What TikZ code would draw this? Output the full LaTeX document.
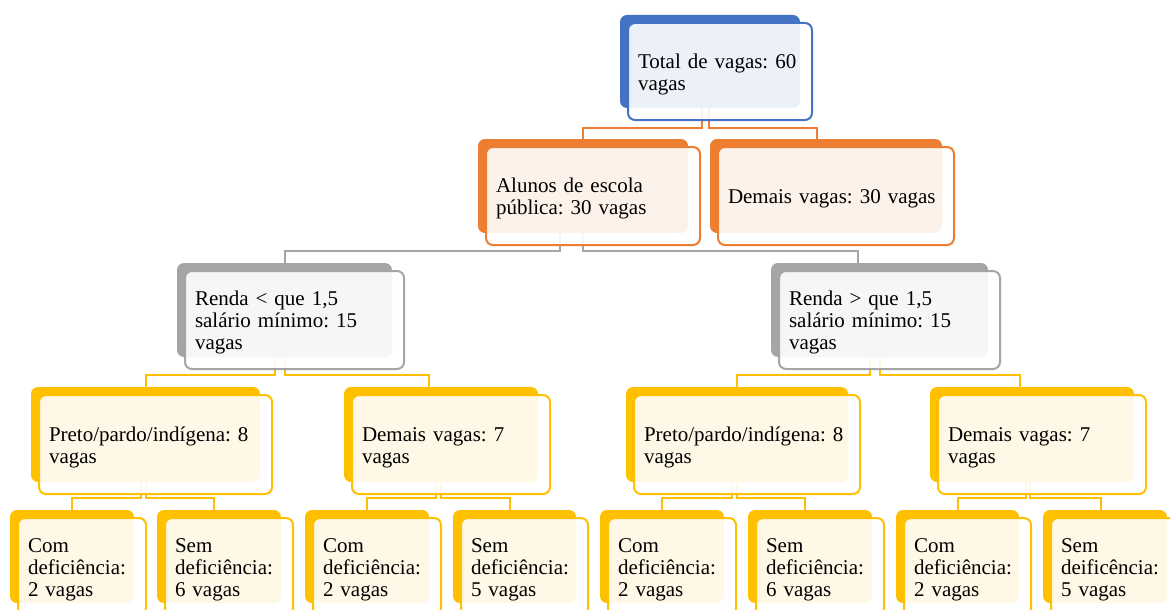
\documentclass[tikz,border=0pt]{standalone}
\usepackage{fontspec}
\setmainfont{Liberation Serif}
\frenchspacing
\usetikzlibrary{backgrounds}
\definecolor{cblue}{HTML}{4472C4}
\definecolor{corange}{HTML}{ED7D31}
\definecolor{cgray}{HTML}{A5A5A5}
\definecolor{cgold}{HTML}{FFC000}
\tikzset{
  backbox/.style={rectangle, rounded corners=7pt, inner sep=0pt, outer sep=0pt, draw=none},
  frontbox/.style={rectangle, rounded corners=7pt, line width=2pt, fill=white, fill opacity=0.9, text opacity=1,
    inner xsep=10pt, inner ysep=0pt, outer sep=0pt, align=left, text height=20.3pt, font=\fontsize{21}{22}\selectfont},
  conn/.style={line width=2pt}
}
\newcommand\mkbox[7]{%
  \pgfmathsetmacro\bw{#5-#3}%
  \pgfmathsetmacro\bh{#6-#4}%
  \pgfmathsetmacro\fw{\bw+4}%
  \pgfmathsetmacro\fh{\bh+4}%
  \pgfmathsetmacro\tw{\bw-16}%
  \node[backbox, fill=#2, minimum width=\bw pt, minimum height=\bh pt] (#1b) at ({(#3+#5)/2},{(#4+#6)/2}) {};
  \node[frontbox, draw=#2, minimum width=\fw pt, minimum height=\fh pt, text width=\tw pt] (#1) at ({(#3+#5)/2+10},{(#4+#6)/2+10}) {#7};
}
\begin{document}
\begin{tikzpicture}[x=1pt,y=-1pt]
\useasboundingbox (0,0) rectangle (1170,610);
% level 0
\mkbox{top}{cblue}{620}{15}{800}{108}{Total de vagas: 60\\vagas}
% level 1
\mkbox{oa}{corange}{478}{139}{688}{233}{Alunos de escola\\pública: 30 vagas}
\mkbox{ob}{corange}{710}{139}{942}{233}{Demais vagas: 30 vagas}
% level 2
\mkbox{ga}{cgray}{177}{263}{392}{357}{Renda < que 1,5\\salário mínimo: 15\\vagas}
\mkbox{gb}{cgray}{771}{263}{988}{357}{Renda > que 1,5\\salário mínimo: 15\\vagas}
% level 3
\mkbox{ya}{cgold}{31}{387}{260}{482}{Preto/pardo/indígena: 8\\vagas}
\mkbox{yb}{cgold}{344}{387}{538}{482}{Demais vagas: 7\\vagas}
\mkbox{yc}{cgold}{626}{387}{848}{482}{Preto/pardo/indígena: 8\\vagas}
\mkbox{yd}{cgold}{930}{387}{1134}{482}{Demais vagas: 7\\vagas}
% level 4
\mkbox{za}{cgold}{10}{510}{134}{603}{Com\\deficiência:\\2 vagas}
\mkbox{zb}{cgold}{157}{510}{281}{603}{Sem\\deficiência:\\6 vagas}
\mkbox{zc}{cgold}{305}{510}{429}{603}{Com\\deficiência:\\2 vagas}
\mkbox{zd}{cgold}{453}{510}{576}{603}{Sem\\deficiência:\\5 vagas}
\mkbox{ze}{cgold}{600}{510}{724}{603}{Com\\deficiência:\\2 vagas}
\mkbox{zf}{cgold}{748}{510}{872}{603}{Sem\\deficiência:\\6 vagas}
\mkbox{zg}{cgold}{896}{510}{1019}{603}{Com\\deficiência:\\2 vagas}
\mkbox{zh}{cgold}{1043}{510}{1167}{603}{Sem\\deificência:\\5 vagas}
% connectors
\begin{scope}[on background layer]
\draw[conn, corange] ([xshift=-8pt]topb.south) -- ++(0,20) -| (oab.north);
\draw[conn, corange] ([xshift=-1pt]topb.south) -- ++(0,20) -| ([xshift=-9pt]obb.north);
\draw[conn, cgray] ([xshift=-23pt]oab.south) -- ++(0,18) -| (gab.north);
\draw[conn, cgray] (oab.south) -- ++(0,18) -| ([xshift=-22pt]gbb.north);
\draw[conn, cgold] ([xshift=-10pt]gab.south) -- ++(0,18) -| (yab.north);
\draw[conn, cgold] (gab.south) -- ++(0,18) -| ([xshift=-12pt]ybb.north);
\draw[conn, cgold] ([xshift=-10pt]gbb.south) -- ++(0,18) -| (ycb.north);
\draw[conn, cgold] (gbb.south) -- ++(0,18) -| ([xshift=-12pt]ydb.north);
\draw[conn, cgold] ([xshift=-5pt]yab.south) -- ++(0,16) -| (zab.north);
\draw[conn, cgold] (yab.south) -- ++(0,16) -| ([xshift=-5pt]zbb.north);
\draw[conn, cgold] ([xshift=-5pt]ybb.south) -- ++(0,16) -| (zcb.north);
\draw[conn, cgold] (ybb.south) -- ++(0,16) -| ([xshift=-5pt]zdb.north);
\draw[conn, cgold] ([xshift=-5pt]ycb.south) -- ++(0,16) -| (zeb.north);
\draw[conn, cgold] (ycb.south) -- ++(0,16) -| ([xshift=-5pt]zfb.north);
\draw[conn, cgold] ([xshift=-6pt]ydb.south) -- ++(0,16) -| (zgb.north);
\draw[conn, cgold] ([xshift=-2pt]ydb.south) -- ++(0,16) -| ([xshift=-4pt]zhb.north);
\end{scope}
\end{tikzpicture}
\end{document}
